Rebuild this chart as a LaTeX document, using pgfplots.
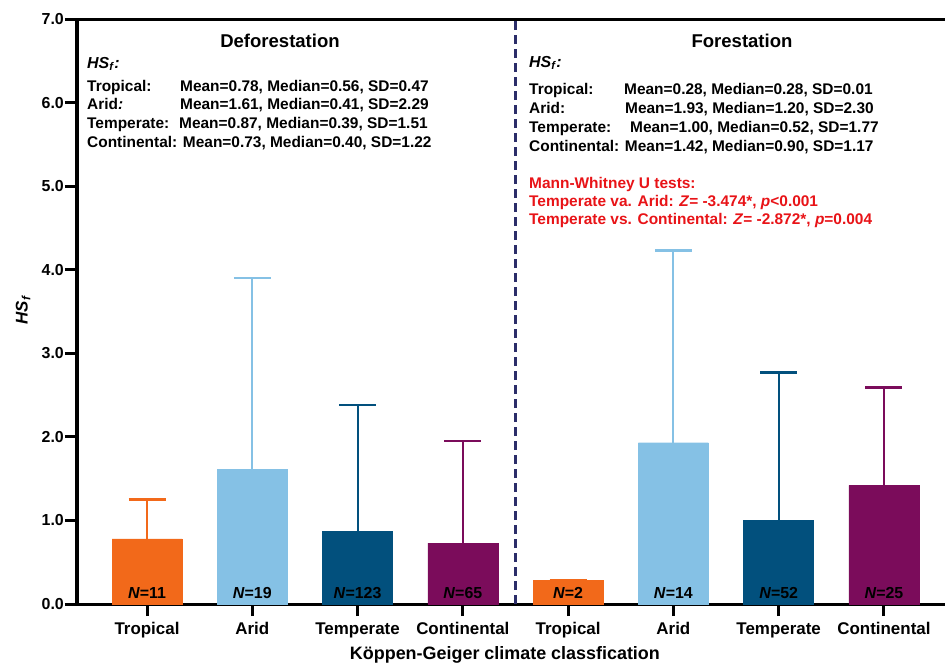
\documentclass[border=0pt]{standalone}
\usepackage{fontspec}
\setmainfont{Liberation Sans}
\usepackage{pgfplots}
\pgfplotsset{compat=1.18}

\definecolor{trop}{RGB}{242,105,26}
\definecolor{arid}{RGB}{133,193,229}
\definecolor{temp}{RGB}{2,80,125}
\definecolor{cont}{RGB}{123,12,91}
\definecolor{divider}{RGB}{43,45,105}
\definecolor{testred}{RGB}{232,19,23}

\newcommand\fs[1]{\fontsize{#1}{#1}\selectfont\bfseries}
\newcommand\HSf{\textit{HS}\textsubscript{\textit{f}}}

% one bar series per climate class: left bar = deforestation, right bar = forestation
\pgfplotsset{
  climbar/.style={
    fill=#1, draw=#1, line width=0.4bp,
    error bars/.cd,
      y dir=plus, y explicit,
      error bar style={line width=2bp, draw=#1},
      error mark options={line width=2.5bp, mark size=18.5bp, draw=#1, rotate=90},
  },
}
\tikzset{ncount/.style={anchor=base, inner sep=0pt, font=\fs{16}, yshift=6bp}}

\begin{document}
\begin{tikzpicture}
\path[use as bounding box] (0,0) rectangle (945bp,-664bp);
\begin{axis}[
  at={(77bp,-604bp)}, anchor=south west,
  scale only axis, width=868bp, height=585bp,
  xmin=-0.665, xmax=7.58, ymin=0, ymax=7,
  axis x line*=bottom, axis y line*=left,
  axis line style={line width=3bp, -},
  ybar, bar width=70bp, bar shift=0pt,
  xtick={0,...,7},
  xticklabels={Tropical,Arid,Temperate,Continental,Tropical,Arid,Temperate,Continental},
  ytick={0,...,7},
  yticklabel={\pgfmathprintnumber[fixed,fixed zerofill,precision=1]{\tick}},
  /pgf/number format/assume math mode=true,
  tick align=outside, major tick length=12bp,
  tick style={line width=3bp, black},
  minor tick num=0,
  xticklabel style={font=\fs{17}, anchor=base, yshift=-18bp},
  yticklabel style={font=\fs{16}, inner sep=1bp},
  xlabel={Köppen-Geiger climate classfication},
  xlabel style={font=\fs{18}, at={(axis description cs:0.493,-0.0875)}, anchor=center},
  ylabel={\HSf},
  ylabel style={font=\fs{17}, at={(axis description cs:-0.0622,0.5026)}, anchor=center, rotate=0},
  clip=false,
]
\addplot[climbar=trop] coordinates {(0,0.78) +- (0,0.47) (4,0.28) +- (0,0.01)};
\addplot[climbar=arid] coordinates {(1,1.61) +- (0,2.29) (5,1.93) +- (0,2.30)};
\addplot[climbar=temp] coordinates {(2,0.87) +- (0,1.51) (6,1.00) +- (0,1.77)};
\addplot[climbar=cont] coordinates {(3,0.73) +- (0,1.22) (7,1.42) +- (0,1.17)};

% frame top and the deforestation / forestation divider
\draw[line width=3bp] (rel axis cs:0,1) -- (rel axis cs:1,1);
\draw[divider, line width=2.5bp, dash pattern=on 9bp off 5bp] (axis cs:3.5,0) -- (axis cs:3.5,7);

% sample sizes
\node[ncount] at (axis cs:0,0) {\textit{N}=11};
\node[ncount] at (axis cs:1,0) {\textit{N}=19};
\node[ncount] at (axis cs:2,0) {\textit{N}=123};
\node[ncount] at (axis cs:3,0) {\textit{N}=65};
\node[ncount] at (axis cs:4,0) {\textit{N}=2};
\node[ncount] at (axis cs:5,0) {\textit{N}=14};
\node[ncount] at (axis cs:6,0) {\textit{N}=52};
\node[ncount] at (axis cs:7,0) {\textit{N}=25};
\end{axis}

% deforestation panel text
\node[anchor=base, inner sep=0pt, font=\fs{18.6}] at (280bp,-47bp) {Deforestation};
\node[anchor=base west, inner sep=0pt, font=\fs{16}] at (87bp,-68bp) {\HSf\textit{:}};
\begin{scope}[every node/.style={anchor=base west, inner sep=0pt, font=\fs{15.5}}]
\node at (87bp,-91.5bp) {Tropical:};
\node at (180bp,-91.5bp) {Mean=0.78, Median=0.56, SD=0.47};
\node at (87bp,-109.8bp) {Arid\textit{:}};
\node at (180bp,-109.8bp) {Mean=1.61, Median=0.41, SD=2.29};
\node at (87bp,-128.5bp) {Temperate:};
\node at (179bp,-128.5bp) {Mean=0.87, Median=0.39, SD=1.51};
\node at (87bp,-147.3bp) {Continental: Mean=0.73, Median=0.40, SD=1.22};
\end{scope}

% forestation panel text
\node[anchor=base, inner sep=0pt, font=\fs{18.6}] at (742bp,-47bp) {Forestation};
\node[anchor=base west, inner sep=0pt, font=\fs{16}] at (529bp,-67bp) {\HSf\textit{:}};
\begin{scope}[every node/.style={anchor=base west, inner sep=0pt, font=\fs{15.5}}]
\node at (529bp,-94.8bp) {Tropical:};
\node at (624bp,-94.8bp) {Mean=0.28, Median=0.28, SD=0.01};
\node at (529bp,-113.5bp) {Arid:};
\node at (625bp,-113.5bp) {Mean=1.93, Median=1.20, SD=2.30};
\node at (529bp,-132.3bp) {Temperate:};
\node at (630bp,-132.3bp) {Mean=1.00, Median=0.52, SD=1.77};
\node at (529bp,-151.2bp) {Continental: Mean=1.42, Median=0.90, SD=1.17};
\end{scope}
\begin{scope}[every node/.style={anchor=base west, inner sep=0pt, font=\fs{15.5}, text=testred}]
\node at (529bp,-188.2bp) {Mann-Whitney U tests:};
\node at (529bp,-206.2bp) {Temperate va. Arid: \textit{Z}= -3.474*, \textit{p}<0.001};
\node at (529bp,-224.5bp) {Temperate vs. Continental: \textit{Z}= -2.872*, \textit{p}=0.004};
\end{scope}
\end{tikzpicture}
\end{document}
